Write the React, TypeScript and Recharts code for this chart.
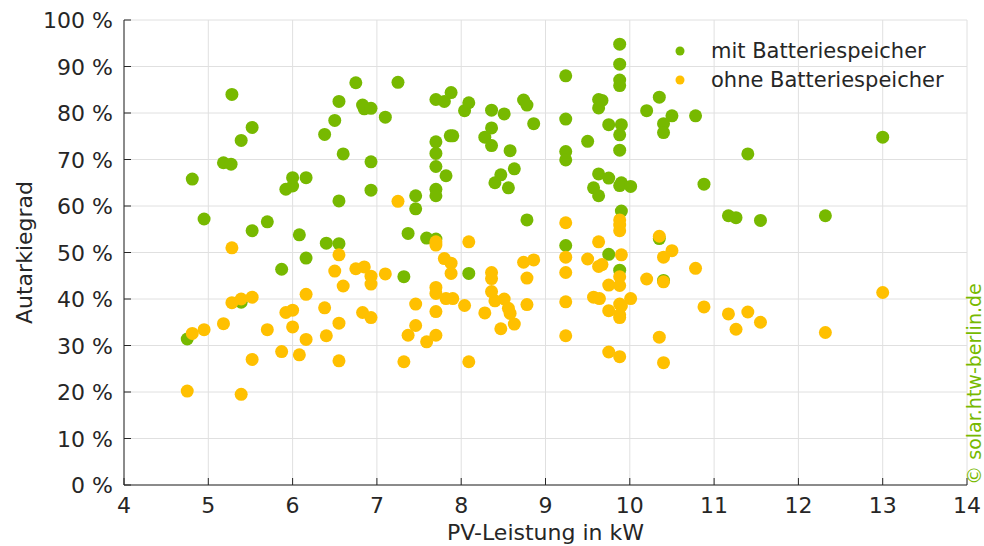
import { CartesianGrid, Legend, Scatter, ScatterChart, XAxis, YAxis } from "recharts";

// PV-Leistung (kW), Autarkiegrad (%)
const mitBatterie: [number, number][] = [
  [4.75, 31.4], [4.81, 65.8], [4.95, 57.2], [5.18, 69.3], [5.27, 69.0], [5.28, 84.0],
  [5.39, 74.1], [5.39, 39.3], [5.52, 76.9], [5.52, 54.7], [5.7, 56.6], [5.87, 46.4],
  [5.92, 63.6], [6.0, 64.3], [6.0, 66.1], [6.08, 53.8], [6.16, 66.1], [6.16, 48.8],
  [6.38, 75.4], [6.4, 52.0], [6.5, 78.4], [6.55, 82.5], [6.55, 61.1], [6.55, 51.9],
  [6.6, 71.2], [6.75, 86.5], [6.83, 81.7], [6.85, 80.9], [6.93, 81.0], [6.93, 69.5],
  [6.93, 63.4], [7.1, 79.1], [7.25, 86.6], [7.32, 44.8], [7.37, 54.1], [7.46, 62.2],
  [7.46, 59.4], [7.59, 53.1], [7.7, 82.9], [7.7, 73.8], [7.7, 71.3], [7.7, 68.5],
  [7.7, 63.6], [7.7, 62.2], [7.7, 52.9], [7.8, 82.5], [7.82, 66.5], [7.87, 75.1],
  [7.9, 75.1], [7.88, 84.4], [8.04, 80.5], [8.09, 82.2], [8.09, 45.5], [8.28, 74.8],
  [8.36, 80.6], [8.36, 76.8], [8.36, 73.0], [8.4, 65.0], [8.47, 66.7], [8.51, 79.8],
  [8.56, 63.9], [8.58, 71.9], [8.63, 68.0], [8.74, 82.8], [8.78, 81.7], [8.78, 57.0],
  [8.86, 77.7], [9.24, 88.0], [9.24, 78.7], [9.24, 71.7], [9.24, 69.9], [9.24, 51.5],
  [9.5, 73.9], [9.57, 63.9], [9.63, 82.9], [9.67, 82.7], [9.63, 81.1], [9.63, 66.9],
  [9.63, 62.2], [9.75, 77.5], [9.75, 66.0], [9.75, 49.6], [9.88, 94.8], [9.88, 90.5],
  [9.88, 87.1], [9.88, 85.9], [9.88, 75.3], [9.88, 72.0], [9.88, 64.4], [9.88, 46.2],
  [9.9, 77.5], [9.9, 65.0], [9.9, 58.9], [10.01, 64.2], [10.2, 80.5], [10.35, 83.4],
  [10.35, 53.0], [10.4, 77.7], [10.4, 75.8], [10.4, 44.0], [10.5, 79.4], [10.78, 79.4],
  [10.88, 64.7], [11.17, 57.9], [11.26, 57.5], [11.4, 71.2], [11.55, 56.9], [12.32, 57.9],
  [13.0, 74.8],
];

const ohneBatterie: [number, number][] = [
  [4.75, 20.2], [4.81, 32.6], [4.95, 33.4], [5.18, 34.7], [5.28, 51.0], [5.28, 39.2],
  [5.39, 40.0], [5.39, 19.5], [5.52, 40.4], [5.52, 27.0], [5.7, 33.4], [5.87, 28.7],
  [5.92, 37.1], [6.0, 37.6], [6.0, 34.0], [6.08, 28.0], [6.16, 41.0], [6.16, 31.3],
  [6.38, 38.1], [6.4, 32.1], [6.5, 46.0], [6.55, 49.5], [6.55, 34.8], [6.55, 26.7],
  [6.6, 42.8], [6.75, 46.5], [6.83, 37.1], [6.85, 46.9], [6.93, 44.9], [6.93, 43.2],
  [6.93, 36.0], [7.1, 45.4], [7.25, 61.0], [7.32, 26.5], [7.37, 32.2], [7.46, 38.9],
  [7.46, 34.3], [7.59, 30.8], [7.7, 52.3], [7.7, 51.6], [7.7, 42.5], [7.7, 41.2],
  [7.7, 37.3], [7.7, 32.2], [7.8, 48.7], [7.82, 40.1], [7.88, 47.7], [7.88, 45.5],
  [7.9, 40.1], [8.04, 38.6], [8.09, 52.3], [8.09, 26.5], [8.28, 37.0], [8.36, 45.7],
  [8.36, 44.4], [8.36, 41.6], [8.4, 39.6], [8.47, 33.6], [8.51, 40.0], [8.56, 38.0],
  [8.58, 36.9], [8.63, 34.6], [8.74, 47.9], [8.78, 44.5], [8.78, 38.8], [8.86, 48.4],
  [9.24, 56.4], [9.24, 49.0], [9.24, 45.7], [9.24, 39.4], [9.24, 32.1], [9.5, 48.6],
  [9.57, 40.4], [9.63, 52.3], [9.63, 47.0], [9.64, 40.1], [9.67, 47.4], [9.75, 43.0],
  [9.75, 37.5], [9.75, 28.6], [9.88, 57.0], [9.88, 55.9], [9.88, 54.7], [9.88, 44.8],
  [9.88, 42.9], [9.88, 38.9], [9.88, 36.6], [9.88, 36.0], [9.88, 27.6], [9.9, 49.5],
  [9.9, 38.5], [10.01, 40.1], [10.2, 44.3], [10.35, 53.5], [10.35, 31.8], [10.4, 49.0],
  [10.4, 43.7], [10.4, 26.3], [10.5, 50.4], [10.78, 46.6], [10.88, 38.3], [11.17, 36.8],
  [11.26, 33.5], [11.4, 37.2], [11.55, 35.0], [12.32, 32.8], [13.0, 41.4],
];

const xTicks = [4, 5, 6, 7, 8, 9, 10, 11, 12, 13, 14];
const yTicks = [0, 10, 20, 30, 40, 50, 60, 70, 80, 90, 100];

const GREEN = "#77b900";
const YELLOW = "#ffc000";
const TEXT = "#262626";
const FONT = "'DejaVu Sans', Verdana, sans-serif";

const toPoints = (list: [number, number][]) => list.map(([x, y]) => ({ x, y }));

const dot = (color: string) => (props: any) => (
  <circle cx={props.cx} cy={props.cy} r={6.5} fill={color} />
);

function XTick({ x, y, payload }: any) {
  return (
    <g>
      <line x1={x} y1={y} x2={x} y2={y - 7} stroke={TEXT} strokeWidth={1} />
      <text x={x} y={y + 28} textAnchor="middle" fill={TEXT} fontSize={22} fontFamily={FONT}>
        {payload.value}
      </text>
    </g>
  );
}

function YTick({ x, y, payload }: any) {
  return (
    <g>
      <line x1={x} y1={y} x2={x + 7} y2={y} stroke={TEXT} strokeWidth={1} />
      <text x={x - 11} y={y + 8} textAnchor="end" fill={TEXT} fontSize={22} fontFamily={FONT}>
        {`${payload.value} %`}
      </text>
    </g>
  );
}

function LegendBox() {
  const items = [
    { label: "mit Batteriespeicher", color: GREEN },
    { label: "ohne Batteriespeicher", color: YELLOW },
  ];
  return (
    <div style={{ fontFamily: FONT, fontSize: 21, color: TEXT }}>
      {items.map((it) => (
        <div key={it.label} style={{ display: "flex", alignItems: "center", height: 28.5 }}>
          <svg width={31} height={20} style={{ marginRight: 10 }}>
            <circle cx={10} cy={10} r={4.5} fill={it.color} />
          </svg>
          <span>{it.label}</span>
        </div>
      ))}
    </div>
  );
}

export default function App() {
  return (
    <div style={{ position: "absolute", left: 0, top: 0, width: 984, height: 546, background: "#fff", overflow: "hidden" }}>
      <ScatterChart width={984} height={546} margin={{ top: 20, right: 17, bottom: 0, left: 0 }}>
        <CartesianGrid stroke="#e0e0e0" strokeWidth={1} />
        <XAxis
          type="number"
          dataKey="x"
          domain={[4, 14]}
          ticks={xTicks}
          height={61}
          tickSize={0}
          tickMargin={0}
          tick={<XTick />}
          tickLine={false}
          axisLine={{ stroke: TEXT }}
          label={{ value: "PV-Leistung in kW", position: "insideBottom", offset: 6, fill: TEXT, fontSize: 22, fontFamily: FONT }}
        />
        <XAxis
          xAxisId="top"
          orientation="top"
          type="number"
          domain={[4, 14]}
          ticks={xTicks}
          height={0}
          mirror
          tick={false}
          tickSize={7}
          tickLine={{ stroke: TEXT }}
          axisLine={{ stroke: TEXT }}
        />
        <YAxis
          type="number"
          dataKey="y"
          domain={[0, 100]}
          ticks={yTicks}
          width={124}
          tickSize={0}
          tickMargin={0}
          tick={<YTick />}
          tickLine={false}
          axisLine={{ stroke: TEXT }}
          label={{ value: "Autarkiegrad", angle: -90, position: "insideLeft", offset: 24, fill: TEXT, fontSize: 22, fontFamily: FONT, style: { textAnchor: "middle" } }}
        />
        <YAxis
          yAxisId="right"
          orientation="right"
          type="number"
          domain={[0, 100]}
          ticks={yTicks}
          width={0}
          mirror
          tick={false}
          tickSize={7}
          tickLine={{ stroke: TEXT }}
          axisLine={{ stroke: TEXT }}
        />
        <Legend
          layout="vertical"
          align="center"
          verticalAlign="middle"
          content={<LegendBox />}
          wrapperStyle={{ position: "absolute", left: 670, top: 37, width: 310, height: 60 }}
        />
        <Scatter name="mit Batteriespeicher" data={toPoints(mitBatterie)} fill={GREEN} shape={dot(GREEN)} isAnimationActive={false} />
        <Scatter name="ohne Batteriespeicher" data={toPoints(ohneBatterie)} fill={YELLOW} shape={dot(YELLOW)} isAnimationActive={false} />
      </ScatterChart>
      <div
        style={{
          position: "absolute",
          left: 974,
          top: 384,
          transform: "translate(-50%, -50%) rotate(-90deg)",
          whiteSpace: "nowrap",
          fontFamily: FONT,
          fontSize: 19,
          lineHeight: "20px",
          color: GREEN,
        }}
      >
        © solar.htw-berlin.de
      </div>
    </div>
  );
}
